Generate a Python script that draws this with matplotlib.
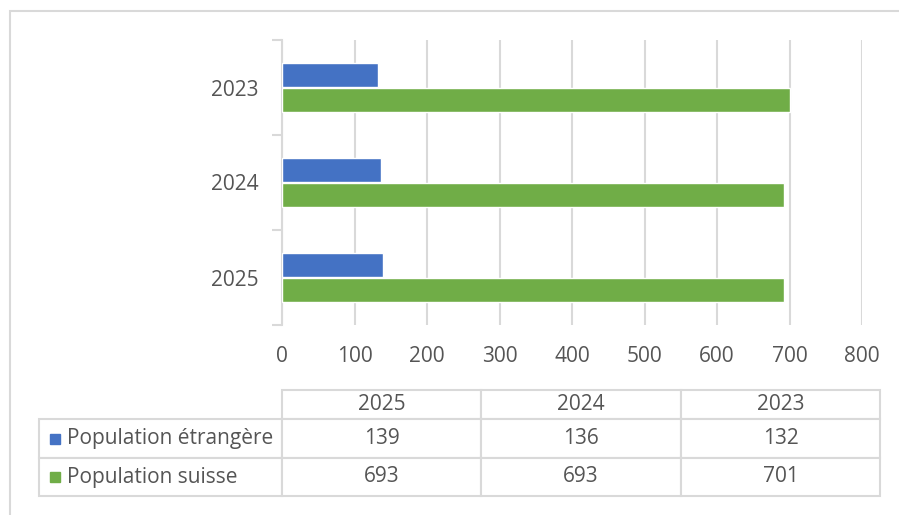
import matplotlib
matplotlib.use('Agg')
import matplotlib.pyplot as plt
from matplotlib.patches import Rectangle

plt.rcParams['font.family'] = ['Open Sans', 'DejaVu Sans']

# data (bottom to top on the chart)
years = ['2025', '2024', '2023']
etrangere = [139, 136, 132]
suisse = [693, 693, 701]
series_names = ['Population étrangère', 'Population suisse']

blue = '#4472C4'
green = '#70AD47'
grid_col = '#d9d9d9'
text_col = '#555555'

W, H = 899, 515
fig = plt.figure(figsize=(W / 100, H / 100), dpi=100)

# outer chart border
fig.patches.append(Rectangle((10 / W, -0.1), 1.2, 1.1 - 11 / H, transform=fig.transFigure,
                             fill=False, edgecolor=grid_col, linewidth=1.5))

ax = fig.add_axes([282 / W, (H - 325) / H, 580 / W, 285 / H])
pos = list(range(len(years)))
bh = 0.25
off = 0.135
ax.barh([p + off for p in pos], etrangere, height=bh, color=blue, edgecolor='white', linewidth=1, zorder=3)
ax.barh([p - off for p in pos], suisse, height=bh, color=green, edgecolor='white', linewidth=1, zorder=3)

ax.set_xlim(0, 800)
ax.set_ylim(-0.5, len(years) - 0.5)
ax.set_xticks(range(0, 801, 100))
ax.tick_params(axis='x', length=0, pad=15, labelsize=15, labelcolor=text_col)
ax.grid(axis='x', color=grid_col, linewidth=1.5, zorder=0)

ax.set_yticks([p - 0.5 for p in pos] + [len(years) - 0.5])
ax.set_yticklabels([])
ax.set_yticks(pos, minor=True)
ax.set_yticklabels(years, minor=True)
ax.tick_params(axis='y', which='major', length=7, width=1.5, color=grid_col)
ax.tick_params(axis='y', which='minor', length=0, pad=17, labelsize=15, labelcolor=text_col)

for s in ['top', 'right', 'bottom']:
    ax.spines[s].set_visible(False)
ax.spines['left'].set_color(grid_col)
ax.spines['left'].set_linewidth(1.5)

# data table below the chart
tax = fig.add_axes([39 / W, (H - 496) / H, 841 / W, 106 / H])
tax.axis('off')
cell_text = [[name] + [str(v) for v in vals]
             for name, vals in zip(series_names, [etrangere, suisse])]
tbl = tax.table(cellText=cell_text, colLabels=[''] + years,
                colWidths=[243 / 841, 199 / 841, 200 / 841, 199 / 841],
                cellLoc='center', bbox=[0, 0, 1, 1])
tbl.auto_set_font_size(False)
heights = [29 / 106, 39 / 106, 38 / 106]
for (r, c), cell in tbl.get_celld().items():
    cell.set_edgecolor(grid_col)
    cell.set_linewidth(1.5)
    cell.set_height(heights[r])
    txt = cell.get_text()
    txt.set_fontsize(15)
    txt.set_color(text_col)
    if r == 0 and c == 0:
        cell.visible_edges = ''
    if c == 0 and r > 0:
        cell._loc = 'left'
        cell.PAD = 0.115
        txt.set_ha('left')

# legend keys inside row labels
row_centers = [1 - (29 + 19.5) / 106, 1 - (29 + 39 + 19) / 106]
for yc, col in zip(row_centers, [blue, green]):
    tax.plot([15.5 / 841], [yc], marker='s', markersize=6.5, color=col, transform=tax.transAxes,
             clip_on=False)

fig.savefig('out.png', dpi=100)
